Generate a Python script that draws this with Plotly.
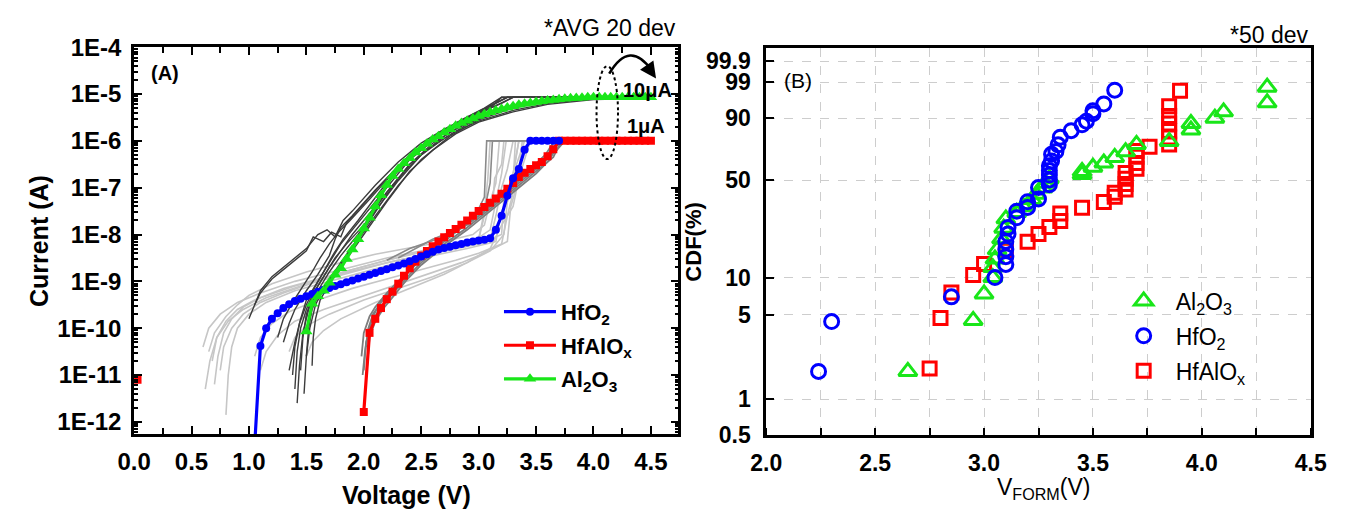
import numpy as np
import plotly.graph_objects as go

W, H = 1355, 521
def fx(p): return p / W
def fy(p): return 1 - p / H

FONT = "Liberation Sans, Arial, sans-serif"

# ---------------- Panel A : I-V forming curves (log10 of current in A) ----------------
hfo2_V = [1.05, 1.10, 1.15, 1.20, 1.25, 1.30, 1.35, 1.40, 1.45, 1.50, 1.55, 1.60, 1.65, 1.70,
          1.75, 1.80, 1.85, 1.90, 1.95, 2.00, 2.05, 2.10, 2.15, 2.20, 2.25, 2.30, 2.35, 2.40,
          2.45, 2.50, 2.55, 2.60, 2.65, 2.70, 2.75, 2.80, 2.85, 2.90, 2.95, 3.00, 3.05, 3.10,
          3.15, 3.20, 3.25, 3.30, 3.35, 3.40, 3.45, 3.50, 3.55, 3.60, 3.65, 3.70]
hfo2_logI = [-12.5, -10.38, -10.00, -9.80, -9.68, -9.57, -9.49, -9.42, -9.37, -9.32, -9.27, -9.22,
             -9.18, -9.14, -9.10, -9.06, -9.02, -8.98, -8.94, -8.90, -8.86, -8.82, -8.78, -8.74,
             -8.70, -8.66, -8.62, -8.57, -8.52, -8.47, -8.42, -8.37, -8.32, -8.29, -8.26, -8.23,
             -8.20, -8.17, -8.15, -8.13, -8.11, -8.08, -7.90, -7.60, -7.17, -6.80, -6.60, -6.19,
             -6.00, -6.00, -6.00, -6.00, -6.00, -6.00]

hfalox_V = [2.00, 2.05, 2.10, 2.15, 2.20, 2.25, 2.30, 2.35, 2.40, 2.45, 2.50, 2.55, 2.60, 2.65,
            2.70, 2.75, 2.80, 2.85, 2.90, 2.95, 3.00, 3.05, 3.10, 3.15, 3.20, 3.25, 3.30, 3.35,
            3.40, 3.45, 3.50, 3.55, 3.60, 3.65, 3.70, 3.75, 3.80, 3.85, 3.90, 3.95, 4.00, 4.05,
            4.10, 4.15, 4.20, 4.25, 4.30, 4.35, 4.40, 4.45, 4.50]
hfalox_logI = [-11.79, -10.10, -9.80, -9.57, -9.38, -9.22, -9.05, -8.88, -8.72, -8.58, -8.45, -8.35,
               -8.25, -8.15, -8.06, -7.97, -7.88, -7.79, -7.70, -7.60, -7.50, -7.41, -7.32, -7.23,
               -7.13, -7.02, -6.90, -6.77, -6.68, -6.60, -6.52, -6.45, -6.33, -6.18, -6.00, -6.00,
               -6.00, -6.00, -6.00, -6.00, -6.00, -6.00, -6.00, -6.00, -6.00, -6.00, -6.00, -6.00,
               -6.00, -6.00, -6.00]
hfalox_first_V = [0.03]
hfalox_first_logI = [-11.1]

al2o3_V = [1.50, 1.55, 1.60, 1.65, 1.70, 1.75, 1.80, 1.85, 1.90, 1.95, 2.00, 2.05, 2.10, 2.15,
           2.20, 2.25, 2.30, 2.35, 2.40, 2.45, 2.50, 2.55, 2.60, 2.65, 2.70, 2.75, 2.80, 2.85,
           2.90, 2.95, 3.00, 3.05, 3.10, 3.15, 3.20, 3.25, 3.30, 3.35, 3.40, 3.45, 3.50, 3.55,
           3.60, 3.65, 3.70, 3.75, 3.80, 3.85, 3.90, 3.95, 4.00, 4.05, 4.10, 4.15, 4.20, 4.25,
           4.30, 4.35, 4.40, 4.45, 4.50]
al2o3_logI = [-10.07, -9.48, -9.32, -9.20, -9.03, -8.86, -8.72, -8.52, -8.32, -8.10, -7.87, -7.64,
              -7.40, -7.16, -6.94, -6.75, -6.60, -6.48, -6.37, -6.25, -6.16, -6.06, -5.97, -5.90,
              -5.82, -5.75, -5.68, -5.62, -5.57, -5.52, -5.47, -5.43, -5.39, -5.35, -5.32, -5.29,
              -5.26, -5.23, -5.21, -5.19, -5.17, -5.155, -5.14, -5.125, -5.11, -5.10, -5.09, -5.085,
              -5.08, -5.07, -5.07, -5.07, -5.07, -5.07, -5.07, -5.07, -5.07, -5.07, -5.07, -5.07, -5.07]

# individual devices (grey curves)
al2o3_dev_V = [
    [1.35, 1.40, 1.45, 1.50, 1.60, 1.70, 1.80, 1.90, 2.00, 2.20, 2.40, 2.60, 2.80, 3.00, 3.20, 3.30, 4.50],
    [1.40, 1.42, 1.45, 1.50, 1.55, 1.65, 1.75, 1.85, 2.00, 2.20, 2.40, 2.60, 2.80, 3.00, 3.25, 3.50, 3.80, 4.50],
    [1.50, 1.52, 1.55, 1.60, 1.70, 1.80, 1.90, 2.00, 2.20, 2.40, 2.60, 2.80, 3.00, 3.30, 3.60, 4.00, 4.50],
    [1.00, 1.05, 1.10, 1.20, 1.30, 1.40, 1.50, 1.56, 1.65, 1.72, 1.80, 1.85, 2.00, 2.20, 2.40, 2.60, 2.80, 3.00, 3.25, 4.50],
    [1.05, 1.10, 1.20, 1.35, 1.50, 1.60, 1.68, 1.75, 1.82, 1.90, 2.10, 2.30, 2.50, 2.70, 2.90, 3.10, 3.20, 4.50],
    [1.45, 1.47, 1.50, 1.55, 1.60, 1.70, 1.80, 1.90, 2.00, 2.10, 2.30, 2.50, 2.70, 2.90, 3.10, 3.40, 3.70, 4.50],
    [1.55, 1.56, 1.58, 1.62, 1.70, 1.80, 1.90, 2.00, 2.20, 2.40, 2.60, 2.80, 3.00, 3.30, 3.60, 4.00, 4.50],
    [1.30, 1.35, 1.40, 1.50, 1.60, 1.70, 1.75, 1.80, 1.90, 2.10, 2.30, 2.50, 2.70, 2.90, 3.10, 3.25, 4.50],
    [1.42, 1.44, 1.47, 1.52, 1.60, 1.70, 1.80, 1.95, 2.10, 2.30, 2.50, 2.70, 2.90, 3.10, 3.35, 3.60, 4.50],
    [1.38, 1.40, 1.44, 1.50, 1.58, 1.66, 1.74, 1.82, 1.95, 2.15, 2.35, 2.55, 2.75, 2.95, 3.15, 3.30, 4.50],
    [1.25, 1.30, 1.38, 1.46, 1.55, 1.62, 1.70, 1.78, 1.88, 2.05, 2.25, 2.45, 2.65, 2.85, 3.05, 3.20, 4.50],
    [1.48, 1.50, 1.53, 1.58, 1.65, 1.75, 1.85, 1.95, 2.10, 2.30, 2.50, 2.75, 3.00, 3.30, 3.70, 4.50],
]
al2o3_dev_logI = [
    [-10.9, -10.3, -9.8, -9.4, -9.0, -8.6, -8.2, -7.9, -7.6, -7.0, -6.4, -6.0, -5.65, -5.4, -5.2, -5.07, -5.07],
    [-11.3, -10.5, -10.0, -9.6, -9.3, -8.9, -8.5, -8.2, -7.8, -7.1, -6.5, -6.05, -5.75, -5.5, -5.3, -5.15, -5.07, -5.07],
    [-10.6, -10.0, -9.6, -9.3, -8.95, -8.6, -8.25, -7.9, -7.15, -6.5, -6.1, -5.8, -5.58, -5.35, -5.2, -5.1, -5.08],
    [-9.8, -9.5, -9.25, -8.95, -8.75, -8.55, -8.35, -8.05, -8.15, -7.95, -8.05, -7.75, -7.35, -6.8, -6.3, -5.95, -5.65, -5.4, -5.07, -5.07],
    [-9.5, -9.2, -8.9, -8.6, -8.3, -8.0, -7.9, -8.05, -7.7, -7.5, -6.95, -6.45, -6.05, -5.75, -5.5, -5.3, -5.07, -5.07],
    [-10.9, -10.2, -9.7, -9.35, -9.1, -8.7, -8.35, -8.0, -7.7, -7.4, -6.8, -6.3, -5.9, -5.6, -5.4, -5.2, -5.1, -5.07],
    [-10.8, -10.2, -9.8, -9.4, -9.05, -8.7, -8.35, -8.0, -7.3, -6.65, -6.2, -5.85, -5.6, -5.38, -5.22, -5.12, -5.09],
    [-10.3, -9.9, -9.6, -9.2, -8.85, -8.45, -8.1, -7.85, -7.6, -7.05, -6.55, -6.1, -5.8, -5.5, -5.25, -5.07, -5.07],
    [-11.6, -10.8, -10.1, -9.6, -9.2, -8.8, -8.45, -8.0, -7.5, -6.85, -6.3, -5.95, -5.65, -5.42, -5.22, -5.1, -5.07],
    [-11.0, -10.4, -9.9, -9.5, -9.1, -8.75, -8.4, -8.1, -7.7, -7.05, -6.5, -6.05, -5.75, -5.48, -5.25, -5.07, -5.07],
    [-10.2, -9.8, -9.45, -9.15, -8.8, -8.5, -8.2, -7.95, -7.7, -7.25, -6.7, -6.2, -5.85, -5.55, -5.3, -5.07, -5.07],
    [-11.4, -10.6, -10.0, -9.5, -9.15, -8.8, -8.45, -8.1, -7.6, -6.95, -6.4, -5.9, -5.55, -5.3, -5.12, -5.08],
]

hfo2_dev_V = [
    [0.65, 0.70, 0.80, 0.90, 1.00, 1.20, 1.50, 1.80, 2.10, 2.40, 2.70, 2.95, 3.05, 3.10, 3.15, 3.18, 3.40],
    [0.70, 0.73, 0.78, 0.85, 0.95, 1.10, 1.40, 1.70, 2.00, 2.30, 2.60, 2.90, 3.10, 3.15, 3.20, 3.25, 3.30, 3.55],
    [0.80, 0.82, 0.85, 0.90, 1.00, 1.15, 1.40, 1.70, 2.00, 2.30, 2.60, 2.90, 3.15, 3.20, 3.25, 3.30, 3.35, 3.60],
    [0.75, 0.78, 0.85, 0.95, 1.10, 1.30, 1.60, 1.90, 2.20, 2.50, 2.80, 3.00, 3.20, 3.22, 3.28, 3.32, 3.35, 3.55],
    [0.68, 0.72, 0.80, 0.90, 1.05, 1.30, 1.60, 1.90, 2.20, 2.50, 2.80, 3.00, 3.05, 3.12, 3.14, 3.20, 3.22, 3.45],
    [1.05, 1.10, 1.20, 1.35, 1.60, 1.90, 2.20, 2.50, 2.80, 3.00, 3.20, 3.25, 3.30, 3.33, 3.40, 3.65],
    [1.35, 1.40, 1.50, 1.70, 2.00, 2.30, 2.60, 2.90, 3.10, 3.20, 3.30, 3.35, 3.40, 3.45, 3.70],
    [1.50, 1.55, 1.65, 1.80, 2.10, 2.40, 2.70, 2.90, 3.10, 3.22, 3.25, 3.30, 3.32, 3.50],
    [0.60, 0.65, 0.75, 0.90, 1.10, 1.40, 1.80, 2.20, 2.60, 3.00, 3.05, 3.08, 3.10, 3.35],
    [0.62, 0.66, 0.72, 0.82, 0.95, 1.15, 1.45, 1.75, 2.05, 2.35, 2.65, 2.95, 3.10, 3.16, 3.20, 3.24, 3.50],
    [1.10, 1.15, 1.25, 1.40, 1.65, 1.95, 2.25, 2.55, 2.85, 3.05, 3.25, 3.28, 3.34, 3.38, 3.60],
]
hfo2_dev_logI = [
    [-10.5, -10.1, -9.75, -9.5, -9.3, -9.05, -8.8, -8.6, -8.42, -8.28, -8.15, -8.0, -7.8, -7.3, -6.9, -6.0, -6.0],
    [-11.2, -10.6, -10.1, -9.8, -9.55, -9.35, -9.1, -8.9, -8.72, -8.55, -8.4, -8.25, -8.1, -7.6, -7.0, -6.6, -6.0, -6.0],
    [-11.85, -11.0, -10.4, -10.0, -9.7, -9.45, -9.2, -9.0, -8.8, -8.6, -8.45, -8.3, -8.15, -7.5, -7.3, -6.7, -6.0, -6.0],
    [-10.9, -10.4, -10.0, -9.7, -9.45, -9.25, -9.0, -8.8, -8.6, -8.45, -8.3, -8.2, -8.0, -7.2, -7.0, -6.4, -6.0, -6.0],
    [-10.7, -10.2, -9.85, -9.6, -9.4, -9.15, -8.95, -8.75, -8.55, -8.38, -8.22, -8.1, -7.6, -7.4, -6.8, -6.5, -6.0, -6.0],
    [-10.6, -10.2, -9.9, -9.65, -9.4, -9.15, -8.95, -8.75, -8.55, -8.4, -8.2, -7.6, -7.1, -6.5, -6.0, -6.0],
    [-10.5, -10.2, -9.95, -9.7, -9.4, -9.15, -8.9, -8.6, -8.3, -7.8, -7.4, -6.8, -6.4, -6.0, -6.0],
    [-10.6, -10.3, -10.05, -9.8, -9.45, -9.15, -8.85, -8.6, -8.35, -8.0, -7.3, -6.9, -6.0, -6.0],
    [-10.4, -10.0, -9.7, -9.45, -9.25, -9.0, -8.75, -8.5, -8.3, -8.1, -7.5, -6.8, -6.0, -6.0],
    [-11.3, -10.7, -10.2, -9.85, -9.6, -9.35, -9.1, -8.85, -8.65, -8.45, -8.3, -8.15, -7.9, -7.2, -6.7, -6.0, -6.0],
    [-10.9, -10.5, -10.15, -9.85, -9.6, -9.35, -9.1, -8.85, -8.6, -8.4, -8.15, -7.4, -6.9, -6.0, -6.0],
]
hfo2_dev2_V = [
    [2.20, 2.40, 2.70, 2.95, 3.05, 3.07, 3.40],
    [2.30, 2.60, 2.90, 3.05, 3.10, 3.12, 3.45],
]
hfo2_dev2_logI = [
    [-8.55, -8.3, -8.05, -7.7, -7.2, -6.0, -6.0],
    [-8.5, -8.1, -7.8, -7.5, -6.9, -6.0, -6.0],
]

hfalox_dev_V = [
    [1.98, 2.00, 2.05, 2.10, 2.20, 2.30, 2.40, 2.50, 2.70, 2.90, 3.10, 3.30, 3.50, 3.60, 3.65, 4.50],
    [2.00, 2.02, 2.06, 2.12, 2.20, 2.30, 2.40, 2.50, 2.70, 2.90, 3.10, 3.30, 3.50, 3.65, 3.72, 4.50],
    [2.02, 2.04, 2.08, 2.15, 2.25, 2.35, 2.45, 2.60, 2.80, 3.00, 3.20, 3.40, 3.55, 3.68, 3.75, 4.50],
    [2.03, 2.05, 2.10, 2.18, 2.28, 2.38, 2.50, 2.70, 2.90, 3.10, 3.30, 3.50, 3.62, 3.70, 4.50],
    [1.99, 2.01, 2.04, 2.09, 2.16, 2.26, 2.36, 2.48, 2.65, 2.85, 3.05, 3.25, 3.45, 3.58, 3.66, 4.50],
]
hfalox_dev_logI = [
    [-10.6, -10.1, -9.75, -9.55, -9.25, -9.0, -8.75, -8.5, -8.1, -7.75, -7.35, -6.95, -6.55, -6.35, -6.0, -6.0],
    [-10.9, -10.3, -9.95, -9.65, -9.4, -9.12, -8.85, -8.6, -8.2, -7.85, -7.45, -7.05, -6.65, -6.35, -6.0, -6.0],
    [-10.4, -10.0, -9.7, -9.45, -9.15, -8.9, -8.65, -8.35, -7.95, -7.6, -7.2, -6.8, -6.5, -6.2, -6.0, -6.0],
    [-10.8, -10.2, -9.85, -9.55, -9.25, -8.95, -8.65, -8.25, -7.9, -7.5, -7.1, -6.7, -6.4, -6.0, -6.0],
    [-11.0, -10.5, -10.05, -9.7, -9.4, -9.1, -8.85, -8.55, -8.2, -7.8, -7.4, -7.0, -6.6, -6.3, -6.0, -6.0],
]

a_ytick_vals = [1e-4, 1e-5, 1e-6, 1e-7, 1e-8, 1e-9, 1e-10, 1e-11, 1e-12]
a_ytick_text = ["1E-4", "1E-5", "1E-6", "1E-7", "1E-8", "1E-9", "1E-10", "1E-11", "1E-12"]
a_xtick_vals = [0.0, 0.5, 1.0, 1.5, 2.0, 2.5, 3.0, 3.5, 4.0, 4.5]
a_xtick_text = ["0.0", "0.5", "1.0", "1.5", "2.0", "2.5", "3.0", "3.5", "4.0", "4.5"]

# ---------------- Panel B : V_FORM cumulative distributions ----------------
al2o3_vform = [2.65, 2.95, 3.00, 3.04, 3.04, 3.05, 3.06, 3.08, 3.09, 3.10, 3.15, 3.18, 3.22, 3.24, 3.27,
               3.28, 3.30, 3.45, 3.45, 3.50, 3.55, 3.60, 3.65, 3.70, 3.85, 3.95, 3.95, 4.06, 4.10, 4.30, 4.30]
al2o3_cdf = [1.7, 4.5, 7.4, 10.0, 12.0, 14.0, 16.5, 20.0, 24.0, 28.0, 31.0, 34.0, 38.0, 41.0, 45.0,
             48.0, 51.0, 54.0, 56.0, 59.0, 62.0, 66.0, 70.0, 75.0, 77.0, 84.0, 87.5, 90.0, 92.6, 95.5, 98.5]

hfo2_vform = [2.24, 2.30, 2.85, 3.05, 3.10, 3.10, 3.10, 3.10, 3.11, 3.11, 3.15, 3.15, 3.20, 3.20, 3.25,
              3.25, 3.30, 3.30, 3.30, 3.30, 3.30, 3.31, 3.31, 3.33, 3.34, 3.35, 3.40, 3.45, 3.47, 3.50,
              3.50, 3.55, 3.60]
hfo2_cdf = [1.7, 4.4, 7.0, 10.0, 12.7, 14.6, 16.7, 19.1, 21.7, 24.3, 28.5, 31.7, 33.6, 36.7, 38.3,
            45.2, 47.1, 50.2, 53.5, 56.7, 60.1, 63.5, 68.2, 70.2, 74.7, 79.7, 83.6, 86.8, 88.6, 91.9,
            93.0, 95.2, 98.1]

hfalox_vform = [2.75, 2.80, 2.85, 2.95, 3.00, 3.10, 3.20, 3.25, 3.30, 3.35, 3.35, 3.45, 3.55, 3.60, 3.60,
                3.65, 3.65, 3.65, 3.65, 3.70, 3.70, 3.70, 3.70, 3.76, 3.85, 3.85, 3.85, 3.85, 3.85, 3.85, 3.90]
hfalox_cdf = [1.8, 4.7, 7.6, 10.5, 12.8, 16.2, 19.0, 21.7, 24.5, 27.0, 30.5, 33.5, 36.5, 39.5, 42.0,
              44.0, 47.5, 51.0, 55.0, 58.0, 62.0, 66.5, 70.5, 73.5, 75.0, 79.5, 83.5, 87.5, 91.0, 94.5, 98.0]

b_ytick_pct = [0.5, 1, 5, 10, 50, 90, 99, 99.9]
b_ytick_text = ["0.5", "1", "5", "10", "50", "90", "99", "99.9"]


def weib(p):
    p = np.asarray(p, dtype=float) / 100.0
    return np.log(-np.log(1.0 - p))


def amps(logs):
    return [10.0 ** v for v in logs]


GREEN = "#19e619"
BLUE = "#0000ff"
RED = "#ff0000"

fig = go.Figure()

for vv, ll in zip(hfo2_dev_V, hfo2_dev_logI):
    fig.add_trace(go.Scatter(x=vv, y=amps(ll), mode="lines", line=dict(color="#c6c6c6", width=1.6),
                             showlegend=False, hoverinfo="skip", xaxis="x", yaxis="y"))
for vv, ll in zip(hfo2_dev2_V, hfo2_dev2_logI):
    fig.add_trace(go.Scatter(x=vv, y=amps(ll), mode="lines", line=dict(color="#8a8a8a", width=1.6),
                             showlegend=False, hoverinfo="skip", xaxis="x", yaxis="y"))
for vv, ll in zip(hfalox_dev_V, hfalox_dev_logI):
    fig.add_trace(go.Scatter(x=vv, y=amps(ll), mode="lines", line=dict(color="#7d7d7d", width=1.8),
                             showlegend=False, hoverinfo="skip", xaxis="x", yaxis="y"))
for vv, ll in zip(al2o3_dev_V, al2o3_dev_logI):
    fig.add_trace(go.Scatter(x=vv, y=amps(ll), mode="lines", line=dict(color="#3c3c3c", width=1.4),
                             showlegend=False, hoverinfo="skip", xaxis="x", yaxis="y"))

fig.add_trace(go.Scatter(x=hfalox_V, y=amps(hfalox_logI), mode="lines+markers", name="HfAlO<sub>x</sub>",
                         line=dict(color=RED, width=3.2), marker=dict(symbol="square", size=8, color=RED),
                         legend="legend", legendgroup="a2", legendrank=2, xaxis="x", yaxis="y"))
fig.add_trace(go.Scatter(x=hfalox_first_V, y=amps(hfalox_first_logI), mode="markers",
                         marker=dict(symbol="square", size=8, color=RED), showlegend=False,
                         xaxis="x", yaxis="y"))
fig.add_trace(go.Scatter(x=hfo2_V, y=amps(hfo2_logI), mode="lines+markers", name="HfO<sub>2</sub>",
                         line=dict(color=BLUE, width=3.2), marker=dict(symbol="circle", size=8, color=BLUE),
                         legend="legend", legendgroup="a1", legendrank=1, xaxis="x", yaxis="y"))
fig.add_trace(go.Scatter(x=al2o3_V, y=amps(al2o3_logI), mode="lines+markers", name="Al<sub>2</sub>O<sub>3</sub>",
                         line=dict(color=GREEN, width=3.2), marker=dict(symbol="triangle-up", size=11, color=GREEN),
                         legend="legend", legendgroup="a3", legendrank=3, xaxis="x", yaxis="y"))

fig.add_trace(go.Scatter(x=hfalox_vform, y=weib(hfalox_cdf), mode="markers", name="HfAlO<sub>x</sub>",
                         marker=dict(symbol="square-open", size=13, color=RED, line=dict(width=3)),
                         legend="legend2", legendgroup="b3", legendrank=3, xaxis="x2", yaxis="y2"))
fig.add_trace(go.Scatter(x=al2o3_vform, y=weib(al2o3_cdf), mode="markers", name="Al<sub>2</sub>O<sub>3</sub>",
                         marker=dict(symbol="triangle-up-open", size=16, color=GREEN, line=dict(width=3)),
                         legend="legend2", legendgroup="b1", legendrank=1, xaxis="x2", yaxis="y2"))
fig.add_trace(go.Scatter(x=hfo2_vform, y=weib(hfo2_cdf), mode="markers", name="HfO<sub>2</sub>",
                         marker=dict(symbol="circle-open", size=14, color=BLUE, line=dict(width=3)),
                         legend="legend2", legendgroup="b2", legendrank=2, xaxis="x2", yaxis="y2"))

minor_log = [m * 10.0 ** e for e in range(-13, -4) for m in range(2, 10)]

tickfont_a = dict(family=FONT, size=24, color="black", weight="bold")
tickfont_b = dict(family=FONT, size=23, color="black", weight="bold")
GRID = "#cdcdcd"

fig.update_layout(
    width=W, height=H, margin=dict(l=0, r=0, t=0, b=0),
    paper_bgcolor="white", plot_bgcolor="white",
    font=dict(family=FONT, color="black"),
    xaxis=dict(domain=[fx(120), fx(678)], range=[0, 4.74], anchor="y",
               tickmode="array", tickvals=a_xtick_vals, ticktext=a_xtick_text,
               ticks="inside", ticklen=8, tickwidth=2, tickcolor="black",
               minor=dict(dtick=0.25, tick0=0, ticks="inside", ticklen=6, tickwidth=2, tickcolor="black"),
               showline=True, linecolor="black", linewidth=2.8, mirror="allticks",
               showgrid=False, zeroline=False, tickfont=tickfont_a, ticklabelstandoff=4),
    yaxis=dict(domain=[fy(443), fy(35)], type="log", range=[-12.26, -4.0], anchor="x",
               tickmode="array", tickvals=a_ytick_vals, ticktext=a_ytick_text,
               ticks="inside", ticklen=8, tickwidth=2, tickcolor="black",
               minor=dict(tickmode="array", tickvals=minor_log, ticks="inside", ticklen=4,
                          tickwidth=1.5, tickcolor="black"),
               showline=True, linecolor="black", linewidth=2.8, mirror="allticks",
               showgrid=False, zeroline=False, tickfont=tickfont_a, ticklabelstandoff=5),
    xaxis2=dict(domain=[fx(768), fx(1326)], range=[2.0, 4.5], anchor="y2",
                tickmode="array", tickvals=[2.0, 2.5, 3.0, 3.5, 4.0, 4.5],
                ticktext=["2.0", "2.5", "3.0", "3.5", "4.0", "4.5"],
                ticks="", showgrid=True, gridcolor=GRID, griddash="dash", gridwidth=1,
                minor=dict(dtick=0.25, tick0=2.0, ticks="inside", ticklen=7, tickwidth=2,
                           tickcolor="black", showgrid=True, gridcolor=GRID, griddash="dash", gridwidth=1),
                showline=True, linecolor="black", linewidth=2.8, mirror=True, zeroline=False,
                tickfont=tickfont_b, ticklabelstandoff=6),
    yaxis2=dict(domain=[fy(444), fy(36)], range=[float(weib([0.5])[0]), 2.19], anchor="x2",
                tickmode="array", tickvals=list(weib(b_ytick_pct)), ticktext=b_ytick_text,
                ticks="inside", ticklen=8, tickwidth=2, tickcolor="black",
                showgrid=True, gridcolor=GRID, griddash="dash", gridwidth=1,
                showline=True, linecolor="black", linewidth=2.8, mirror=True, zeroline=False,
                tickfont=tickfont_b, ticklabelstandoff=8),
    legend=dict(x=fx(494), y=fy(292), xanchor="left", yanchor="top", itemwidth=52,
                bgcolor="rgba(0,0,0,0)", tracegroupgap=2,
                font=dict(family=FONT, size=22, color="black", weight="bold")),
    legend2=dict(x=fx(1122), y=fy(280), xanchor="left", yanchor="top", itemwidth=54,
                 bgcolor="rgba(0,0,0,0)", tracegroupgap=2,
                 font=dict(family=FONT, size=23, color="black")),
)

ann = []
def text(x, y, s, size, bold=False, angle=0, xanchor="center"):
    ann.append(dict(x=fx(x), y=fy(y), xref="paper", yref="paper", text=s, showarrow=False,
                    xanchor=xanchor, yanchor="middle", textangle=angle,
                    font=dict(family=FONT, size=size, color="black", weight="bold" if bold else "normal")))

text(678, 15, "*AVG 20 dev", 23, xanchor="right")
text(1326, 22, "*50 dev", 23, xanchor="right")
text(152, 62, "(A)", 20, bold=True)
text(801, 70, "(B)", 21)
text(646, 80, "10μA", 20, bold=True)
text(645, 118, "1μA", 20, bold=True)
text(22, 239, "Current (A)", 25, bold=True, angle=-90)
text(399, 507, "Voltage (V)", 25, bold=True)
text(693, 241, "CDF(%)", 22, bold=True, angle=-90)
text(1052, 500, "V<sub>FORM</sub>(V)", 23)

ann.append(dict(x=fx(655), y=fy(68), xref="paper", yref="paper", text="", showarrow=True,
                ax=-7, ay=-10, arrowhead=2, arrowsize=1.3, arrowwidth=2.5, arrowcolor="black", standoff=0))

fig.update_layout(annotations=ann)

fig.update_layout(shapes=[
    dict(type="circle", xref="paper", yref="paper", x0=fx(594), x1=fx(616), y0=fy(153), y1=fy(55),
         line=dict(color="black", width=2, dash="dot")),
    dict(type="path", xref="paper", yref="paper",
         path=f"M {fx(607)},{fy(63)} Q {fx(628)},{fy(26)} {fx(651)},{fy(60)}",
         line=dict(color="black", width=2.5)),
])

fig.write_html("out.html")
